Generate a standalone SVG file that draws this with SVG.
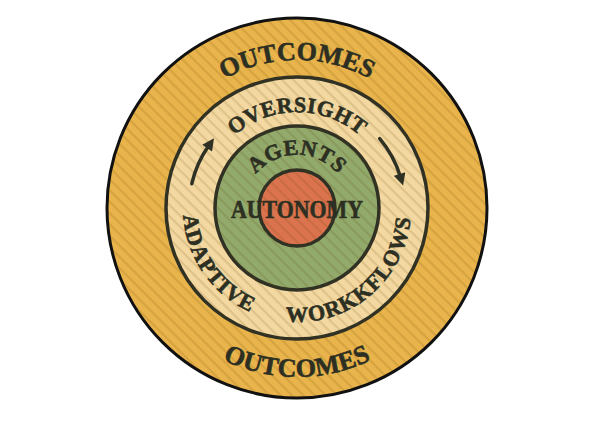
<svg xmlns="http://www.w3.org/2000/svg" width="589" height="423" viewBox="0 0 589 423">
<style>
.lbl{font-family:"Liberation Serif","DejaVu Serif",serif;font-weight:bold;fill:#2c2f22;stroke:#2c2f22;stroke-width:0.6}
.ring{stroke:#2f3125;stroke-width:3.5}
.arr{fill:none;stroke:#2f3125;stroke-width:3.5;stroke-linecap:round}
</style>
<defs>
<pattern id="stripes" width="8" height="8" patternUnits="userSpaceOnUse" patternTransform="rotate(45)">
<rect x="0" y="0" width="8" height="2.2" fill="#5a3a00" fill-opacity="0.14"/>
</pattern>
<marker id="ah" viewBox="0 0 10 10" refX="2" refY="5" markerWidth="13" markerHeight="12" markerUnits="userSpaceOnUse" orient="auto">
<path d="M0,0 L10,5 L0,10 z" fill="#2f3125"/>
</marker>
<path id="pOutTop" d="M157.9 157.4 A148 148 0 0 1 436.1 157.4"/>
<path id="pOutBot" d="M138.2 265.8 A169 169 0 0 0 455.8 265.8"/>
<path id="pOver" d="M202.5 191.3 A96 96 0 0 1 391.5 191.3"/>
<path id="pAdapt" d="M186.9 178.5 A114 114 0 0 0 287.1 321.6"/>
<path id="pWork" d="M267.5 318.1 A114 114 0 0 0 410.6 198.1"/>
<path id="pAgents" d="M250.2 183.0 A53 53 0 0 1 343.8 183.0"/>
</defs>
<rect width="589" height="423" fill="#ffffff"/>
<g id="outcomes">
<circle cx="297" cy="208" r="190" fill="#e9b44b" stroke="#111" stroke-width="3"/>
</g>
<g id="oversight">
<circle cx="297" cy="208" r="131" fill="#f3d9a1" class="ring"/>
</g>
<g id="agents">
<circle cx="297" cy="208" r="82" fill="#92aa6c" class="ring"/>
</g>
<g id="autonomy">
<circle cx="297" cy="208" r="38" fill="#db744e" class="ring"/>
</g>
<circle cx="297" cy="208" r="188.5" fill="url(#stripes)"/>
<g id="labels">
<text class="lbl" font-size="26" letter-spacing="0"><textPath href="#pOutTop" startOffset="50%" text-anchor="middle">OUTCOMES</textPath></text>
<text class="lbl" font-size="26" letter-spacing="0.3"><textPath href="#pOutBot" startOffset="50%" text-anchor="middle">OUTCOMES</textPath></text>
<text class="lbl" font-size="22" letter-spacing="0.4"><textPath href="#pOver" startOffset="50%" text-anchor="middle">OVERSIGHT</textPath></text>
<text class="lbl" font-size="22" letter-spacing="1.2"><textPath href="#pAdapt" startOffset="50%" text-anchor="middle">ADAPTIVE</textPath></text>
<text class="lbl" font-size="22" letter-spacing="1.2"><textPath href="#pWork" startOffset="50%" text-anchor="middle">WORKKFLOWS</textPath></text>
<text class="lbl" font-size="22" letter-spacing="0.6"><textPath href="#pAgents" startOffset="50%" text-anchor="middle">AGENTS</textPath></text>
<text class="lbl" x="297" y="218" font-size="25" text-anchor="middle" textLength="132" lengthAdjust="spacingAndGlyphs">AUTONOMY</text>
</g>
<g id="connectors">
<path class="arr" d="M191.8 183.7 A108 108 0 0 1 208.5 146.1" marker-end="url(#ah)"/>
<path class="arr" d="M379.7 138.6 A108 108 0 0 1 400.3 176.4" marker-end="url(#ah)"/>
</g>
</svg>
